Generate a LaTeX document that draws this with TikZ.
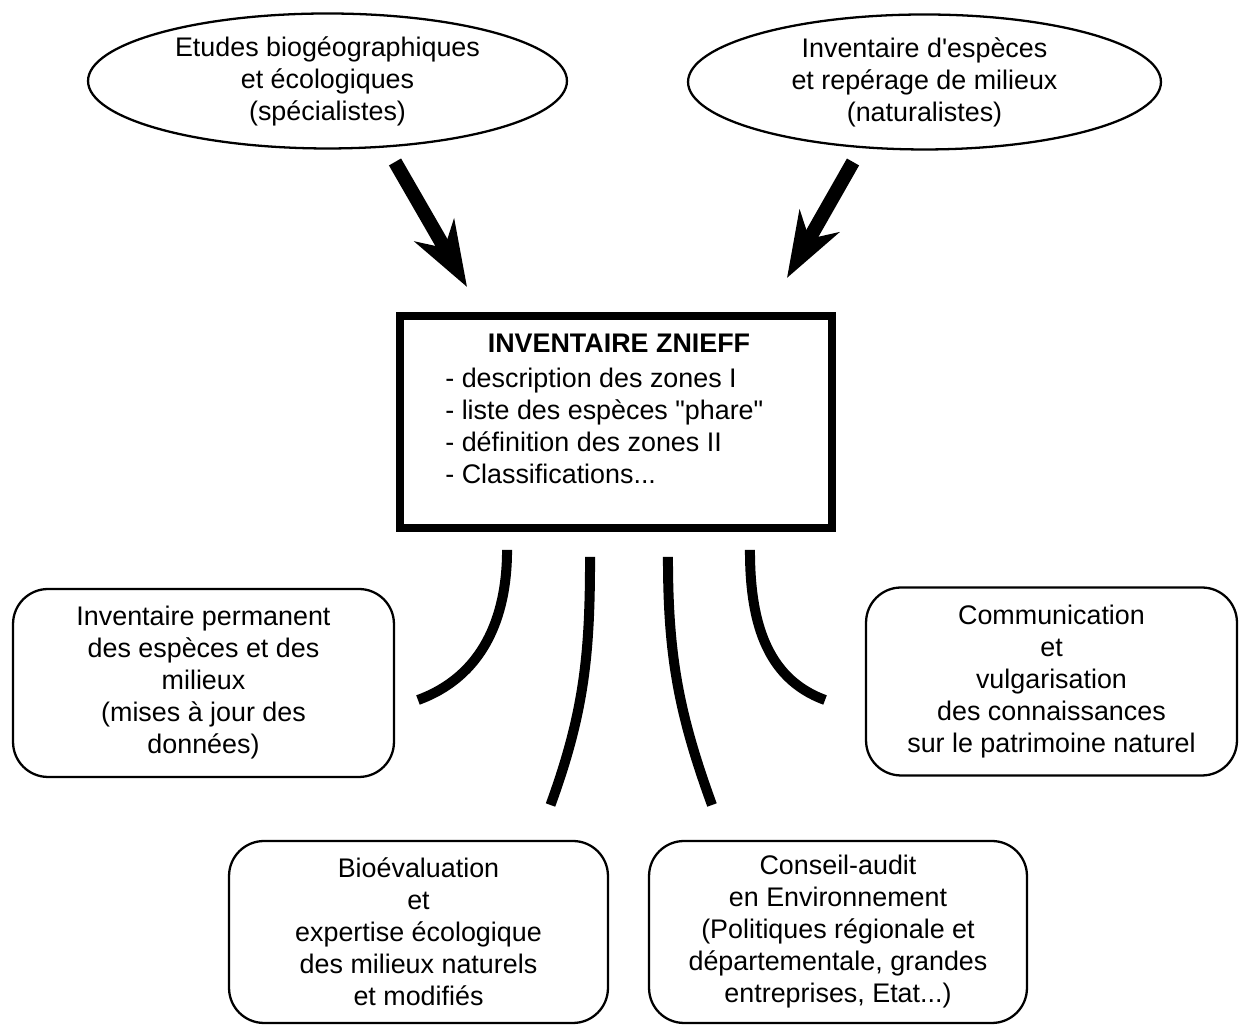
\documentclass[tikz,border=0pt]{standalone}
\usepackage{fontspec}
\setmainfont{Liberation Sans}
\usetikzlibrary{shapes.geometric,arrows.meta,calc}

\begin{document}
\begin{tikzpicture}[x=0.02cm,y=0.02cm,font=\fontsize{15.3}{18.2}\selectfont,
    bulle/.style={draw,ellipse,line width=1.3pt,align=center,inner sep=0pt,outer sep=0pt,minimum height=2.7cm},
    boite/.style={draw,rounded corners=0.7cm,line width=1.3pt,align=center,outer sep=0pt,minimum height=3.76cm},
    fleche/.style={line width=0.28cm,-{Stealth[length=1.3cm,width=0.9cm,inset=0.4cm]}},
    lien/.style={line width=0.2cm}]
    \useasboundingbox(0,0)rectangle(1240,1026);

    \node[bulle,minimum width=9.58cm](etudes)at(327.5,945){Etudes biogéographiques\\et écologiques\\(spécialistes)};
    \node[bulle,minimum width=9.46cm](especes)at(924.5,944){Inventaire d\textquotesingle espèces\\et repérage de milieux\\(naturalistes)};

    \node[draw,line width=0.16cm,outer sep=0pt,minimum width=8.64cm,minimum height=4.24cm](znieff)at(616,604){};
    \node[inner sep=0pt](titre)at(619,683){\bfseries INVENTAIRE ZNIEFF};
    \node[inner sep=0pt,align=left,anchor=west](liste)at(445,600){- description des zones I\\- liste des espèces \textquotedbl phare\textquotedbl\\- définition des zones II\\- Classifications...};

    \node[boite,minimum width=7.62cm](permanent)at(203.5,343){Inventaire permanent\\des espèces et des\\milieux\\(mises à jour des\\données)};
    \node[boite,minimum width=7.42cm](communication)at(1051.5,344.5){Communication\\et\\vulgarisation\\des connaissances\\sur le patrimoine naturel};
    \node[boite,minimum width=7.58cm,minimum height=3.64cm](bioeval)at(418.5,94){Bioévaluation\\et\\expertise écologique\\des milieux naturels\\et modifiés};
    \node[boite,minimum width=7.56cm,minimum height=3.64cm](conseil)at(838,94){Conseil-audit\\en Environnement\\(Politiques régionale et\\départementale, grandes\\entreprises, Etat...)};

    \draw[fleche]($(etudes.south)+(67.5,-13.5)$)--($(znieff.north west)+(67,29)$);
    \draw[fleche]($(especes.south)+(-71.5,-12.5)$)--($(znieff.north east)+(-45,38)$);

    \draw[lien]($(znieff.south west)+(107,-22)$)to[out=-90,in=20]($(permanent.east)+(24,-17)$);
    \draw[lien]($(znieff.south west)+(190,-29)$)to[out=-90,in=70]($(bioeval.north)+(132,36)$);
    \draw[lien]($(znieff.south east)+(-164,-29)$)to[out=-90,in=110]($(conseil.north)+(-126,36)$);
    \draw[lien]($(znieff.south east)+(-82,-22)$)to[out=-90,in=160]($(communication.west)+(-41,-18.5)$);
\end{tikzpicture}
\end{document}
